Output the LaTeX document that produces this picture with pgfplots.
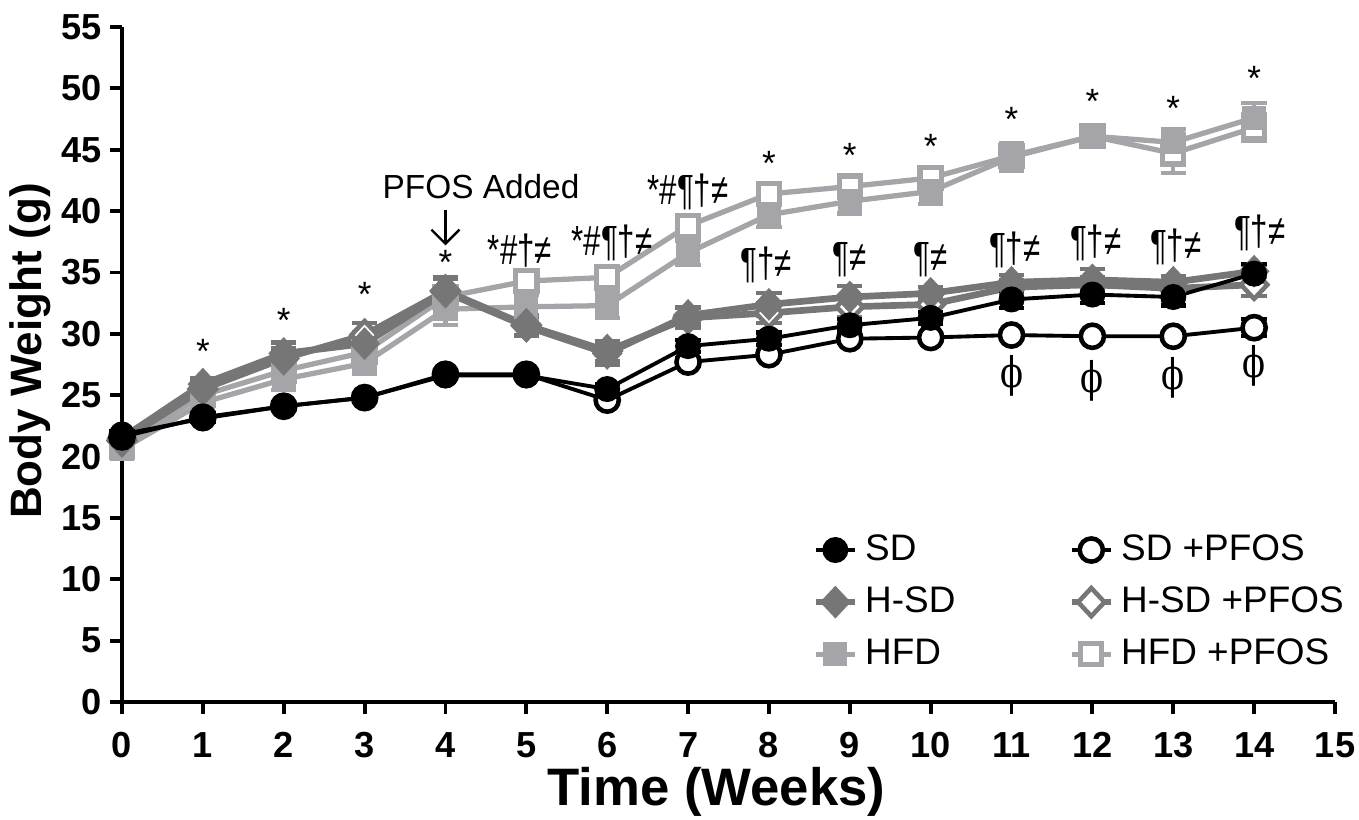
\documentclass[border=0pt]{standalone}
\usepackage{fontspec}
\setmainfont{Liberation Sans}
\newfontfamily\serifphi{DejaVu Serif}
\usepackage{graphicx}
\usepackage{pgfplots}
\usepackage{pgfplotstable}
\pgfplotsset{compat=1.18}
\usetikzlibrary{arrows.meta}

\definecolor{hsdgray}{RGB}{118,118,118}
\definecolor{hfdgray}{RGB}{165,165,169}

% week, mean, error
\pgfplotstableread{
w m e
0 21.8 0.3
1 23.1 0.3
2 24.1 0.3
3 24.8 0.3
4 26.6 0.3
5 26.6 0.3
6 25.5 0.4
7 29.0 0.5
8 29.6 0.5
9 30.7 0.5
10 31.3 0.5
11 32.8 0.7
12 33.2 0.7
13 33.0 0.7
14 34.9 0.8
}\sd
\pgfplotstableread{
w m e
0 21.6 0.3
1 23.2 0.3
2 24.1 0.3
3 24.8 0.3
4 26.7 0.3
5 26.7 0.3
6 24.6 0.3
7 27.7 0.3
8 28.3 0.3
9 29.6 0.3
10 29.7 0.3
11 29.9 0.3
12 29.8 0.3
13 29.8 0.3
14 30.5 0.7
}\sdp
\pgfplotstableread{
w m e
0 21.5 0.4
1 25.9 0.5
2 28.4 0.9
3 29.2 0.9
4 33.4 1.2
5 30.6 0.8
6 28.4 0.9
7 31.5 0.7
8 32.4 0.9
9 33.0 0.9
10 33.3 0.5
11 34.2 0.6
12 34.4 0.9
13 34.2 0.5
14 35.1 0.5
}\hsd
\pgfplotstableread{
w m e
0 21.3 0.4
1 25.5 0.6
2 28.0 0.8
3 29.9 1.0
4 33.5 1.0
5 30.7 0.8
6 28.6 0.8
7 31.3 0.8
8 31.7 0.8
9 32.2 0.8
10 32.4 0.6
11 33.8 0.6
12 34.0 0.6
13 33.7 0.6
14 34.0 0.9
}\hsdp
\pgfplotstableread{
w m e
0 20.6 0.5
1 24.4 0.8
2 26.3 0.9
3 27.6 0.9
4 32.0 1.3
5 32.2 1.0
6 32.3 1.0
7 36.6 1.0
8 39.7 1.0
9 40.8 1.0
10 41.6 1.0
11 44.4 1.1
12 46.1 0.9
13 45.6 1.1
14 47.6 1.2
}\hfd
\pgfplotstableread{
w m e
0 20.8 0.5
1 25.0 0.7
2 27.0 0.8
3 28.5 0.8
4 33.0 0.8
5 34.3 0.9
6 34.6 0.9
7 38.8 0.9
8 41.4 0.8
9 42.0 0.7
10 42.7 0.8
11 44.5 1.0
12 46.1 0.9
13 44.7 1.6
14 46.8 1.1
}\hfdp

\pgfplotsset{
  sdS/.style={black, line width=1.1pt, mark=*, mark size=3.4pt, mark options={solid, fill=black, line width=0.6pt}},
  sdpS/.style={black, line width=1.1pt, mark=*, mark size=3.3pt, mark options={solid, fill=white, line width=1.3pt}},
  hsdS/.style={hsdgray, line width=1.9pt, mark=diamond*, mark size=4.3pt, mark options={solid, fill=hsdgray, line width=0.5pt, xscale=1.25}},
  hsdpS/.style={hsdgray, line width=1.9pt, mark=diamond*, mark size=4.0pt, mark options={solid, fill=white, line width=1.3pt, xscale=1.25}},
  hfdS/.style={hfdgray, line width=1.5pt, mark=square*, mark size=3.2pt, mark options={solid, fill=hfdgray, line width=0.5pt}},
  hfdpS/.style={hfdgray, line width=1.5pt, mark=square*, mark size=3.0pt, mark options={solid, fill=white, line width=1.5pt}},
  errs/.style={error bars/y dir=both, error bars/y explicit,
    error bars/error bar style={line width=1.2pt, solid},
    error bars/error mark options={rotate=90, mark size=3.6pt, line width=1.2pt}},
}

\newcommand{\sig}[1]{\scalebox{0.74}[1]{#1}}
\tikzset{ast/.style={font=\fontsize{10}{12}\selectfont},
  sg/.style={font=\fontsize{12}{14}\selectfont},
  ph/.style={font=\serifphi\fontsize{12}{14}\selectfont}}

\begin{document}
\begin{tikzpicture}
\begin{axis}[
  scale only axis,
  width=12.13cm, height=6.75cm,
  xmin=0, xmax=15, ymin=0, ymax=55,
  enlargelimits=false,
  clip=false,
  axis x line*=bottom, axis y line*=left,
  axis line style={line width=1.1pt},
  tick style={line width=1.1pt, black},
  tick align=outside,
  major tick length=0.12cm,
  xtick={0,1,...,15},
  ytick={0,5,...,55},
  /pgf/number format/assume math mode=true,
  tick label style={font=\bfseries\fontsize{10.3}{12}\selectfont},
  xticklabel style={yshift=-0.06cm},
  yticklabel style={xshift=0.04cm},
  xlabel={Time (Weeks)},
  ylabel={Body Weight (g)},
  xlabel style={font=\bfseries\fontsize{15}{18}\selectfont, at={(axis description cs:0.49,0)}, anchor=center, yshift=-0.9cm},
  ylabel style={font=\bfseries\fontsize{12.5}{15}\selectfont, at={(axis description cs:-0.0758,0.52)}, anchor=center},
  legend columns=2,
  legend cell align=left,
  legend style={at={(axis cs:8.4,14.85)}, anchor=north west, draw=none, fill=none,
    font=\fontsize{10.5}{12.6}\selectfont, row sep=0.07cm},
  legend image code/.code={\draw[mark repeat=2,mark phase=2] plot coordinates {(0cm,0cm) (0.195cm,0cm) (0.39cm,0cm)};},
  /tikz/every even column/.append style={column sep=1.06cm},
]
\addplot[hfdpS, errs, forget plot] table[x=w, y=m, y error=e] {\hfdp};
\addplot[hfdS, errs, forget plot] table[x=w, y=m, y error=e] {\hfd};
\addplot[hsdpS, errs, forget plot] table[x=w, y=m, y error=e] {\hsdp};
\addplot[hsdS, errs, forget plot] table[x=w, y=m, y error=e] {\hsd};
\addplot[sdpS, errs, forget plot] table[x=w, y=m, y error=e] {\sdp};
\addplot[sdS, errs, forget plot] table[x=w, y=m, y error=e] {\sd};

\addlegendimage{sdS}\addlegendentry{SD}
\addlegendimage{sdpS}\addlegendentry{SD +PFOS}
\addlegendimage{hsdS}\addlegendentry{H-SD}
\addlegendimage{hsdpS}\addlegendentry{H-SD +PFOS}
\addlegendimage{hfdS}\addlegendentry{HFD}
\addlegendimage{hfdpS}\addlegendentry{HFD +PFOS}

% annotations
\node[font=\fontsize{9.5}{11}\selectfont] at (axis cs:4.44,42.0) {PFOS Added};
\draw[line width=0.7pt, -{Straight Barb[length=4pt,width=8pt]}] (axis cs:4.0,40.1) -- (axis cs:4.0,37.2);
\node[ast] at (axis cs:1,28.6) {*};
\node[ast] at (axis cs:2,31.1) {*};
\node[ast] at (axis cs:3,33.2) {*};
\node[ast] at (axis cs:4,35.8) {*};
\node[ast] at (axis cs:8,43.9) {*};
\node[ast] at (axis cs:9,44.5) {*};
\node[ast] at (axis cs:10,45.3) {*};
\node[ast] at (axis cs:11,47.5) {*};
\node[ast] at (axis cs:12,48.9) {*};
\node[ast] at (axis cs:13,48.4) {*};
\node[ast] at (axis cs:14,50.8) {*};
\node[sg] at (axis cs:4.92,36.8) {\sig{*\#†≠}};
\node[sg] at (axis cs:6.06,37.4) {\sig{*\#¶†≠}};
\node[sg] at (axis cs:7.0,41.6) {\sig{*\#¶†≠}};
\node[sg] at (axis cs:7.97,35.6) {\sig{¶†≠}};
\node[sg] at (axis cs:9.0,36.0) {\sig{¶≠}};
\node[sg] at (axis cs:10.0,36.0) {\sig{¶≠}};
\node[sg] at (axis cs:11.04,36.8) {\sig{¶†≠}};
\node[sg] at (axis cs:12.04,37.4) {\sig{¶†≠}};
\node[sg] at (axis cs:13.03,37.1) {\sig{¶†≠}};
\node[sg] at (axis cs:14.07,38.2) {\sig{¶†≠}};
\node[ph] at (axis cs:11,26.6) {\scalebox{0.8}[1]{ϕ}};
\node[ph] at (axis cs:12,26.2) {\scalebox{0.8}[1]{ϕ}};
\node[ph] at (axis cs:13,26.4) {\scalebox{0.8}[1]{ϕ}};
\node[ph] at (axis cs:14,27.4) {\scalebox{0.8}[1]{ϕ}};
\end{axis}
\pgfresetboundingbox
\useasboundingbox (-1.22cm,-1.18cm) rectangle (12.37cm,7.02cm);
\end{tikzpicture}
\end{document}
